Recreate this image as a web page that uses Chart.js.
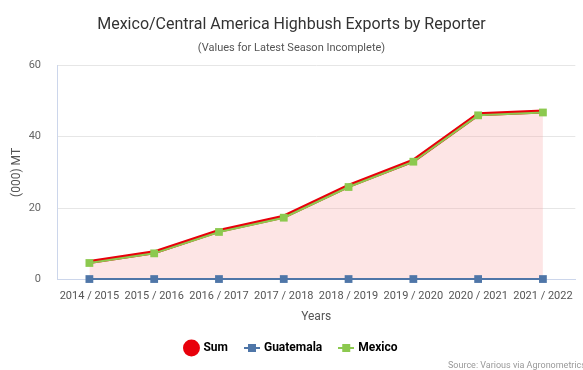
<!DOCTYPE html>
<html>
<head>
<meta charset="utf-8">
<script src="https://cdn.jsdelivr.net/npm/chart.js@4"></script>
<style>
    body { margin: 0; background: #fff; }
    #wrap { width: 583px; height: 370px; position: relative; }
</style>
</head>
<body>
<div id="wrap"><canvas id="chart"></canvas></div>
<script>
// Data
const seasons = ['2014 / 2015', '2015 / 2016', '2016 / 2017', '2017 / 2018', '2018 / 2019', '2019 / 2020', '2020 / 2021', '2021 / 2022'];
const mexico = [4.6, 7.3, 13.3, 17.3, 25.9, 33.0, 46.0, 46.8];
const guatemala = [0.1, 0.1, 0.1, 0.1, 0.1, 0.1, 0.1, 0.1];
const sum = [4.9, 7.6, 13.6, 17.6, 26.2, 33.3, 46.3, 47.1];
const yTicks = [0, 20, 40, 60];

const RED = '#e8000b';
const BLUE = '#4f76a8';
const GREEN = '#8cc94f';

// small legend icon: line with square marker
function legendIcon(color) {
    const c = document.createElement('canvas');
    c.width = 16; c.height = 10;
    const g = c.getContext('2d');
    g.strokeStyle = color;
    g.lineWidth = 2;
    g.beginPath(); g.moveTo(0, 5); g.lineTo(16, 5); g.stroke();
    g.fillStyle = color;
    g.fillRect(4, 1, 8, 8);
    return c;
}

const sourcePlugin = {
    id: 'source',
    afterDraw(chart) {
        const ctx = chart.ctx;
        ctx.save();
        ctx.font = '9px Roboto';
        ctx.fillStyle = '#999';
        ctx.textBaseline = 'middle';
        ctx.fillText('Source: Various via Agronometrics', 448, 366);
        ctx.restore();
    }
};

new Chart(document.getElementById('chart'), {
    type: 'line',
    data: {
        labels: seasons,
        datasets: [
            {
                label: 'Sum',
                data: sum,
                borderColor: RED,
                borderWidth: 4,
                backgroundColor: 'rgba(247, 170, 170, 0.3)',
                fill: 'origin',
                pointRadius: 0,
                tension: 0,
                clip: false,
                order: 3
            },
            {
                label: 'Guatemala',
                data: guatemala,
                borderColor: BLUE,
                backgroundColor: BLUE,
                borderWidth: 2,
                pointStyle: 'rect',
                pointRadius: 5.5,
                pointBorderWidth: 0,
                tension: 0,
                clip: false,
                order: 2
            },
            {
                label: 'Mexico',
                data: mexico,
                borderColor: GREEN,
                backgroundColor: GREEN,
                borderWidth: 2,
                pointStyle: 'rect',
                pointRadius: 5.5,
                pointBorderWidth: 0,
                tension: 0,
                clip: false,
                order: 1
            }
        ]
    },
    options: {
        responsive: true,
        maintainAspectRatio: false,
        animation: false,
        layout: { padding: { left: 0, right: 0, top: 0, bottom: 6 } },
        plugins: {
            title: {
                display: true,
                text: 'Mexico/Central America Highbush Exports by Reporter',
                font: { family: 'Roboto', size: 16, weight: 'normal' },
                color: '#333',
                padding: { top: 15, bottom: 2 }
            },
            subtitle: {
                display: true,
                text: '(Values for Latest Season Incomplete)',
                font: { family: 'Roboto', size: 11 },
                color: '#555',
                padding: { top: 5, bottom: 11 }
            },
            legend: {
                position: 'bottom',
                labels: {
                    usePointStyle: true,
                    font: { family: 'Roboto', size: 12, weight: 'bold' },
                    color: '#333',
                    padding: 18,
                    generateLabels() {
                        return [
                            { text: 'Sum', pointStyle: 'circle', fillStyle: RED, strokeStyle: RED, lineWidth: 0, datasetIndex: 0 },
                            { text: 'Guatemala', pointStyle: legendIcon(BLUE), fillStyle: BLUE, strokeStyle: BLUE, lineWidth: 0, datasetIndex: 1 },
                            { text: 'Mexico', pointStyle: legendIcon(GREEN), fillStyle: GREEN, strokeStyle: GREEN, lineWidth: 0, datasetIndex: 2 }
                        ];
                    }
                }
            },
            tooltip: { enabled: false }
        },
        scales: {
            x: {
                offset: true,
                grid: { display: false, drawTicks: false },
                border: { color: '#ccd6eb' },
                ticks: { font: { family: 'Roboto', size: 11 }, color: '#555', maxRotation: 0, autoSkip: false, padding: 10 },
                title: { display: true, text: 'Years', font: { family: 'Roboto', size: 12 }, color: '#555', padding: { top: -3, bottom: 0 } }
            },
            y: {
                min: yTicks[0],
                max: yTicks[yTicks.length - 1],
                afterBuildTicks(axis) { axis.ticks = yTicks.map(v => ({ value: v })); },
                afterFit(axis) { axis.width = 57; },
                grid: { color: '#e6e6e6', drawTicks: false },
                border: { color: '#ccd6eb' },
                ticks: { font: { family: 'Roboto', size: 11 }, color: '#666', padding: 16 },
                title: { display: true, text: '(000) MT', font: { family: 'Roboto', size: 12 }, color: '#555', padding: { top: 10, bottom: 0 } }
            }
        }
    },
    plugins: [sourcePlugin]
});
</script>
</body>
</html>
